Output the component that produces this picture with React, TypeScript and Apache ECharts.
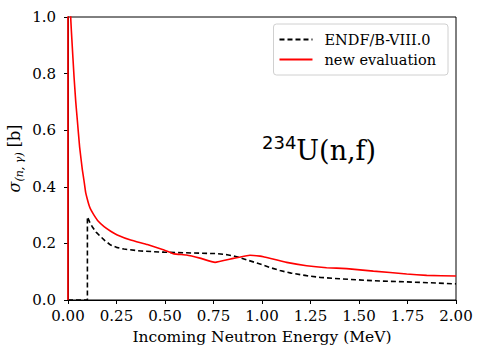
import React, { useEffect, useRef } from "react";
import * as echarts from "echarts";

const endfData: [number, number][] = [
  [0, 0], [0.1, 0], [0.1, 0.294], [0.112, 0.275], [0.125, 0.259], [0.145, 0.24],
  [0.168, 0.224], [0.19, 0.21], [0.22, 0.194], [0.25, 0.186], [0.289, 0.18],
  [0.375, 0.173], [0.495, 0.169], [0.646, 0.166], [0.766, 0.164], [0.82, 0.16],
  [0.87, 0.153], [0.93, 0.14], [0.99, 0.127], [1.04, 0.115], [1.093, 0.104],
  [1.15, 0.095], [1.23, 0.086], [1.3, 0.08], [1.4, 0.075], [1.574, 0.068],
  [1.746, 0.064], [1.9, 0.06], [2.0, 0.057],
];

const newEvalData: [number, number][] = [
  [0, 0], [0.0005, 20], [0.014, 1.0], [0.02, 0.92], [0.031, 0.79], [0.04, 0.7],
  [0.048, 0.636], [0.06, 0.54], [0.074, 0.46], [0.082, 0.424], [0.091, 0.38],
  [0.1, 0.355], [0.108, 0.336], [0.117, 0.32], [0.134, 0.3], [0.155, 0.279],
  [0.186, 0.259], [0.22, 0.243], [0.254, 0.23], [0.323, 0.212], [0.409, 0.196],
  [0.495, 0.177], [0.546, 0.163], [0.61, 0.159], [0.68, 0.148], [0.758, 0.133],
  [0.852, 0.147], [0.938, 0.158], [0.99, 0.155], [1.007, 0.153], [1.127, 0.133],
  [1.23, 0.121], [1.333, 0.114], [1.436, 0.111], [1.574, 0.102], [1.746, 0.092],
  [1.849, 0.087], [2.0, 0.085],
];

const seriesNames = ["ENDF/B-VIII.0", "new evaluation"];
const serif = "DejaVu Serif";

export default function App() {
  const ref = useRef<HTMLDivElement>(null);
  useEffect(() => {
    const chart = echarts.init(ref.current!, null, { renderer: "svg" });
    chart.setOption({
      animation: false,
      grid: {
        left: 68, right: 21, top: 17, bottom: 45,
        show: true, borderColor: "#000", borderWidth: 1,
        containLabel: false, outerBoundsMode: "none",
      },
      legend: {
        orient: "vertical",
        right: 29,
        top: 24,
        padding: [8, 12, 8, 5],
        itemGap: 5,
        itemWidth: 33,
        itemHeight: 15,
        borderColor: "#d0d0d0",
        borderWidth: 1,
        borderRadius: 3,
        backgroundColor: "#fff",
        itemStyle: { opacity: 0 },
        textStyle: { fontFamily: serif, fontSize: 14.5, color: "#000", padding: [0, 0, 0, 7] },
        data: seriesNames,
      },
      xAxis: {
        type: "value",
        min: 0,
        max: 2,
        interval: 0.25,
        name: "Incoming Neutron Energy (MeV)",
        nameLocation: "middle",
        nameGap: 29,
        nameMoveOverlap: false,
        nameTextStyle: { fontFamily: serif, fontSize: 15.5, color: "#000" },
        axisLine: { lineStyle: { color: "#000", width: 1 } },
        axisTick: { length: 4, lineStyle: { color: "#000" } },
        axisLabel: { fontFamily: serif, fontSize: 15, color: "#000", margin: 8, formatter: (v: number) => v.toFixed(2) },
        splitLine: { show: false },
      },
      yAxis: {
        type: "value",
        min: 0,
        max: 1,
        interval: 0.2,
        name: "{s|σ}{sub|(n, γ)}{n| [b]}",
        nameLocation: "middle",
        nameRotate: 90,
        nameGap: 43,
        nameMoveOverlap: false,
        nameTextStyle: {
          fontFamily: serif,
          color: "#000",
          rich: {
            s: { fontFamily: serif, fontStyle: "italic", fontSize: 16, color: "#000", lineHeight: 22 },
            sub: { fontFamily: serif, fontStyle: "italic", fontSize: 11, color: "#000", verticalAlign: "bottom", lineHeight: 15 },
            n: { fontFamily: serif, fontSize: 16, color: "#000", lineHeight: 22 },
          },
        },
        axisLine: { show: true, lineStyle: { color: "#000", width: 1 } },
        axisTick: { show: true, length: 4, lineStyle: { color: "#000" } },
        axisLabel: { fontFamily: serif, fontSize: 15, color: "#000", margin: 12, formatter: (v: number) => v.toFixed(1) },
        splitLine: { show: false },
      },
      graphic: [
        {
          type: "text",
          left: 262,
          top: 133,
          style: {
            text: "{sup|234}{m|U(n,f)}",
            rich: {
              sup: { fontFamily: "DejaVu Sans", fontSize: 18, fill: "#000", verticalAlign: "top", lineHeight: 31 },
              m: { fontFamily: serif, fontSize: 27, fill: "#000", verticalAlign: "bottom", lineHeight: 31 },
            },
          },
        },
      ],
      series: [
        {
          name: seriesNames[0],
          type: "line",
          data: endfData,
          showSymbol: false,
          symbol: "none",
          color: "#000",
          lineStyle: { color: "#000", width: 1.6, type: [5, 3] },
        },
        {
          name: seriesNames[1],
          type: "line",
          data: newEvalData,
          showSymbol: false,
          symbol: "none",
          smooth: 0.1,
          color: "#ff0000",
          lineStyle: { color: "#ff0000", width: 1.6 },
        },
      ],
    });
    return () => chart.dispose();
  }, []);
  return <div ref={ref} style={{ width: 477, height: 345, position: "absolute", left: 0, top: 0 }} />;
}
